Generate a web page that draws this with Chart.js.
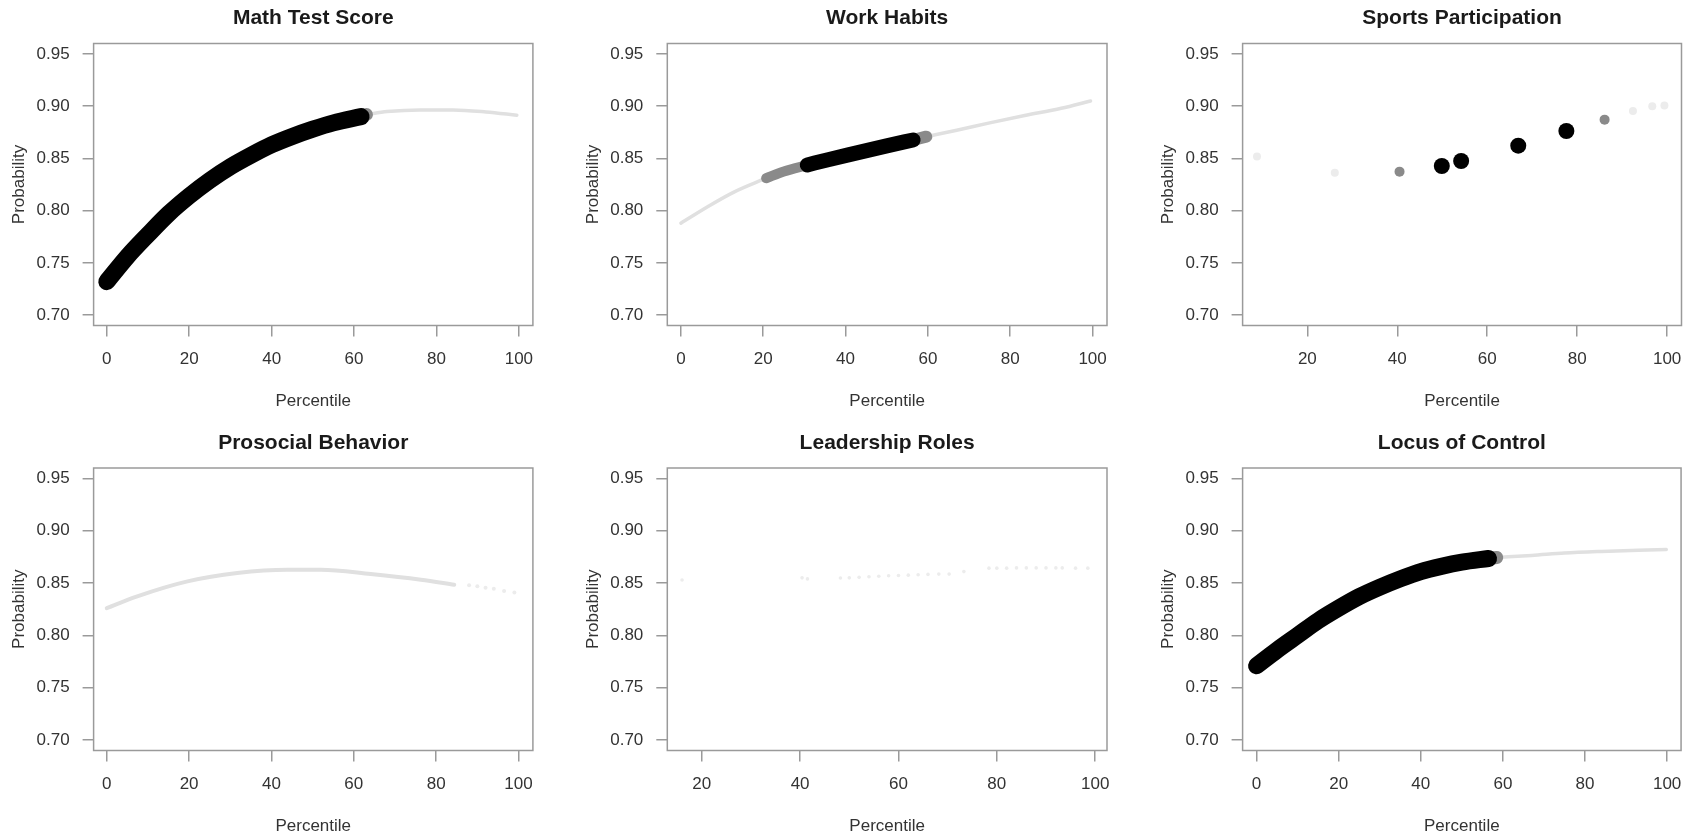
<!DOCTYPE html>
<html>
<head>
<meta charset="utf-8">
<script src="https://cdn.jsdelivr.net/npm/chart.js@4.4.1/dist/chart.umd.min.js"></script>
<style>
  html, body { margin: 0; padding: 0; background: #fff; overflow: hidden; }
  canvas { position: absolute; }
</style>
</head>
<body>
<canvas id="math"></canvas>
<canvas id="work"></canvas>
<canvas id="sports"></canvas>
<canvas id="pros"></canvas>
<canvas id="lead"></canvas>
<canvas id="locus"></canvas>
<script>
// axis ticks
var yTicks = [0.70, 0.75, 0.80, 0.85, 0.90, 0.95];
var xTicksAll = [0, 20, 40, 60, 80, 100];
var xTicksFrom20 = [20, 40, 60, 80, 100];

// Math Test Score  (percentile -> probability)
var mathSigX = [0, 5, 10, 15, 20, 25, 30, 35, 40, 45, 50, 55, 61.7];
var mathSigY = [0.732, 0.756, 0.777, 0.797, 0.814, 0.829, 0.842, 0.853, 0.863, 0.871, 0.878, 0.884, 0.890];
var mathMidX = [61.7, 63];
var mathMidY = [0.890, 0.892];
var mathNsX = [63, 68, 76, 84, 92, 99.5];
var mathNsY = [0.892, 0.8948, 0.8964, 0.8964, 0.8945, 0.8914];

// Work Habits
var workNsAX = [0, 6.6, 13, 20.7];
var workNsAY = [0.788, 0.804, 0.818, 0.831];
var workMidAX = [20.7, 25, 30.7];
var workMidAY = [0.831, 0.8375, 0.8437];
var workSigX = [30.7, 36, 43, 50, 56.4];
var workSigY = [0.8437, 0.849, 0.8555, 0.862, 0.8676];
var workMidBX = [56.4, 59.6];
var workMidBY = [0.8676, 0.8708];
var workNsBX = [59.6, 67, 75, 83.5, 92.4, 99.5];
var workNsBY = [0.8708, 0.877, 0.884, 0.891, 0.898, 0.905];

// Sports Participation
var sportsSigX = [49.9, 54.2, 66.9, 77.6];
var sportsSigY = [0.8427, 0.8475, 0.8622, 0.8762];
var sportsMidX = [40.5, 86.1];
var sportsMidY = [0.8373, 0.8871];
var sportsNsX = [8.8, 26.1, 92.4, 96.7, 99.4];
var sportsNsY = [0.8517, 0.8363, 0.8954, 0.8999, 0.9007];

// Prosocial Behavior
var prosNsX = [0, 7.4, 19.6, 31.7, 43.9, 52, 64.1, 76.3, 84.4];
var prosNsY = [0.826, 0.8373, 0.8516, 0.8596, 0.8627, 0.8627, 0.8586, 0.8532, 0.8484];
var prosDotX = [88, 90, 92, 94, 96.5, 99];
var prosDotY = [0.848, 0.847, 0.8455, 0.8445, 0.8425, 0.841];

// Leadership Roles
var leadX = [16, 40.4, 41.5, 48.2, 50, 52, 54, 56, 58, 60, 62, 64, 66, 68.2, 70.3, 73.3, 78.4, 80, 82, 84, 86, 88, 90, 92, 93.3, 96, 98.5];
var leadY = [0.853, 0.855, 0.854, 0.8548, 0.855, 0.8555, 0.856, 0.8565, 0.857, 0.8572, 0.8576, 0.858, 0.8583, 0.8586, 0.8586, 0.861, 0.8643, 0.8643, 0.8643, 0.8645, 0.8645, 0.8645, 0.8645, 0.8645, 0.8645, 0.8643, 0.8643];

// Locus of Control
var locSigX = [0, 5, 10, 15, 20, 25, 30, 35, 40, 45, 50, 56.5];
var locSigY = [0.771, 0.786, 0.800, 0.814, 0.826, 0.837, 0.846, 0.854, 0.861, 0.866, 0.870, 0.8735];
var locMidX = [56.5, 58.5];
var locMidY = [0.8735, 0.8745];
var locNsX = [58.5, 67, 75, 84, 93, 99.8];
var locNsY = [0.8745, 0.8764, 0.8787, 0.8803, 0.8815, 0.8821];

var FONT = '"Liberation Sans", Arial, Helvetica, sans-serif';
var TEXT = '#333';
var AXIS = '#9a9a9a';
var TL = 11;

function pts(xs, ys) {
  return xs.map(function(x, i) { return {x: x, y: ys[i]}; });
}

function band(xs, ys, color, width, order) {
  return {
    data: pts(xs, ys), showLine: true, pointRadius: 0,
    borderColor: color, borderWidth: width, borderCapStyle: 'round', borderJoinStyle: 'round',
    cubicInterpolationMode: 'monotone', fill: false, order: order, clip: false
  };
}

function dots(xs, ys, color, r, order) {
  return {
    data: pts(xs, ys), showLine: false, pointRadius: r, pointHoverRadius: r,
    backgroundColor: color, borderWidth: 0, pointBorderWidth: 0, order: order, clip: false
  };
}

// plot frame like base R box()
var frame = {
  id: 'frame',
  afterDraw: function(chart) {
    var a = chart.chartArea, ctx = chart.ctx;
    ctx.save();
    ctx.strokeStyle = AXIS;
    ctx.lineWidth = 1.5;
    ctx.strokeRect(a.left, a.top, a.right - a.left, a.bottom - a.top);
    ctx.restore();
  }
};

var cols = [
  {x: 0, w: 560, l: 93.6, r: 532.9},
  {x: 560, w: 570, l: 667.3, r: 1107},
  {x: 1130, w: 564, l: 1242.6, r: 1682.9}
];
var rows = [
  {y: 0, h: 419, t: 43.5, b: 325.5},
  {y: 419, h: 419, t: 468, b: 750.5}
];

function panel(id, col, row, title, xMin, xMax, xTicks, datasets) {
  var c = cols[col], r = rows[row];
  var cv = document.getElementById(id);
  cv.width = c.w; cv.height = r.h;
  cv.style.left = c.x + 'px'; cv.style.top = r.y + 'px';

  var titleMid = r.t - 25 - r.y;
  var xTitleMid = r.b + 75.6;
  var yTitleMid = c.l - 73.8;

  new Chart(cv, {
    type: 'scatter',
    data: { datasets: datasets },
    plugins: [frame],
    options: {
      responsive: false, animation: false, devicePixelRatio: 1,
      layout: { padding: { left: 0, right: c.x + c.w - c.r, top: 0, bottom: 0 } },
      plugins: {
        legend: { display: false },
        tooltip: { enabled: false },
        title: {
          display: true, text: title, fullSize: false, color: '#1a1a1a',
          font: { family: FONT, size: 21, weight: 'bold', lineHeight: 1.2 },
          padding: { top: titleMid - 12.6, bottom: (r.t - r.y) - titleMid - 12.6 }
        }
      },
      scales: {
        x: {
          type: 'linear', min: xMin, max: xMax,
          afterBuildTicks: function(s) { s.ticks = xTicks.map(function(v) { return {value: v}; }); },
          afterFit: function(s) { s.height = r.y + r.h - r.b; },
          ticks: {
            color: TEXT, font: { family: FONT, size: 17, lineHeight: 1.2 },
            padding: 33.5 - TL - 10.2, maxRotation: 0, autoSkip: false,
            callback: function(v) { return String(v); }
          },
          grid: { drawOnChartArea: false, drawTicks: true, tickLength: TL, color: AXIS, lineWidth: 1.5 },
          border: { display: false },
          title: {
            display: true, text: 'Percentile', color: TEXT,
            font: { family: FONT, size: 17, lineHeight: 1.2 },
            padding: { top: 0, bottom: (r.y + r.h) - xTitleMid - 10.2 }
          }
        },
        y: {
          type: 'linear', min: 0.69, max: 0.96,
          afterBuildTicks: function(s) { s.ticks = yTicks.map(function(v) { return {value: v}; }); },
          afterFit: function(s) { s.width = c.l - c.x; },
          ticks: {
            color: TEXT, font: { family: FONT, size: 17, lineHeight: 1.2 },
            padding: 24 - TL, autoSkip: false,
            callback: function(v) { return v.toFixed(2); }
          },
          grid: { drawOnChartArea: false, drawTicks: true, tickLength: TL, color: AXIS, lineWidth: 1.5 },
          border: { display: false },
          title: {
            display: true, text: 'Probability', color: TEXT,
            font: { family: FONT, size: 17, lineHeight: 1.2 },
            padding: { top: yTitleMid - c.x - 10.2, bottom: 0 }
          }
        }
      }
    }
  });
}

var BLACK = '#000000', GREY = '#8a8a8a', LIGHT = '#e0e0e0', FAINT = '#ececec';

panel('math', 0, 0, 'Math Test Score', -3.2, 103.4, xTicksAll, [
  band(mathNsX, mathNsY, LIGHT, 3.5, 3),
  band(mathMidX, mathMidY, GREY, 13, 2),
  band(mathSigX, mathSigY, BLACK, 17, 1)
]);

panel('work', 1, 0, 'Work Habits', -3.3, 103.5, xTicksAll, [
  band(workNsAX, workNsAY, LIGHT, 3.5, 3),
  band(workNsBX, workNsBY, LIGHT, 3.5, 3),
  band(workMidAX, workMidAY, GREY, 10, 2),
  band(workMidBX, workMidBY, GREY, 12, 2),
  band(workSigX, workSigY, BLACK, 15, 1)
]);

panel('sports', 2, 0, 'Sports Participation', 5.6, 103.2, xTicksFrom20, [
  dots(sportsNsX, sportsNsY, FAINT, 4, 3),
  dots(sportsMidX, sportsMidY, GREY, 5, 2),
  dots(sportsSigX, sportsSigY, BLACK, 8, 1)
]);

panel('pros', 0, 1, 'Prosocial Behavior', -3.2, 103.5, xTicksAll, [
  band(prosNsX, prosNsY, LIGHT, 4, 2),
  dots(prosDotX, prosDotY, FAINT, 2, 1)
]);

panel('lead', 1, 1, 'Leadership Roles', 13.0, 102.4, xTicksFrom20, [
  dots(leadX, leadY, FAINT, 1.8, 1)
]);

panel('locus', 2, 1, 'Locus of Control', -3.4, 103.4, xTicksAll, [
  band(locNsX, locNsY, LIGHT, 3.5, 3),
  band(locMidX, locMidY, GREY, 13, 2),
  band(locSigX, locSigY, BLACK, 17, 1)
]);
</script>
</body>
</html>
